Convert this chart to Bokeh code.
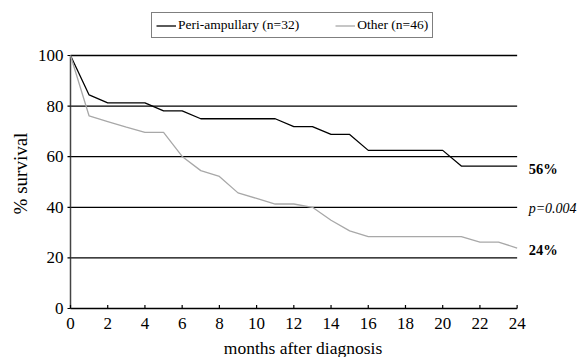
import math
from bokeh.plotting import figure
from bokeh.models import Legend, LegendItem, Label, Range1d
from bokeh.core.properties import value
from bokeh.embed import file_html
from bokeh.resources import INLINE

# ---- data ----
months = list(range(25))
peri = [100, 84.4, 81.3, 81.3, 81.3, 78.1, 78.1, 75.0, 75.0, 75.0, 75.0, 75.0,
        71.9, 71.9, 68.8, 68.8, 62.5, 62.5, 62.5, 62.5, 62.5, 56.3, 56.3, 56.3, 56.3]
other = [100, 76.1, 73.9, 71.7, 69.6, 69.6, 60.1, 54.5, 52.2, 45.7, 43.5, 41.3,
         41.3, 40.0, 34.9, 30.7, 28.4, 28.4, 28.4, 28.4, 28.4, 28.4, 26.2, 26.2, 23.9]
x_ticks = list(range(0, 25, 2))
y_ticks = [0, 20, 40, 60, 80, 100]
x_tick_labels = [str(t) for t in x_ticks]
y_tick_labels = [str(t) for t in y_ticks]
peri_label = "Peri-ampullary (n=32)"
other_label = "Other (n=46)"
p_value = 40
p_text = "p=0.004"
x_title = "months after diagnosis"
y_title = "% survival"

# ---- layout (canvas pixels) ----
W, H = 584, 357
X0, X_PER = 70, 18.61      # pixel of month 0, pixels per month
Y0, Y_PER = 308, 2.53      # pixel of 0 %, pixels per percent
FONT = "Liberation Serif"

def dx(px):
    return px / X_PER

def dy(px):
    return px / Y_PER

p = figure(width=W, height=H, output_backend="svg", toolbar_location=None,
           x_range=Range1d(-dx(X0), dx(W - X0)), y_range=Range1d(-dy(H - Y0), dy(Y0)),
           min_border=0, min_border_left=0, min_border_right=0,
           min_border_top=0, min_border_bottom=0)
p.axis.visible = False
p.grid.visible = False
p.outline_line_color = None

xmin, xmax = months[0], months[-1]
ymin, ymax = y_ticks[0], y_ticks[-1]

# horizontal reference lines
p.segment(x0=[xmin] * (len(y_ticks) - 1), x1=[xmax] * (len(y_ticks) - 1),
          y0=y_ticks[1:], y1=y_ticks[1:], line_color="black", line_width=1.3)
# axis lines
p.segment(x0=[xmin], x1=[xmax], y0=[ymin], y1=[ymin], line_color="black", line_width=1.5)
p.segment(x0=[xmin], x1=[xmin], y0=[ymin], y1=[ymax], line_color="#444444", line_width=1.5)
# ticks
p.segment(x0=x_ticks, x1=x_ticks, y0=[ymin] * len(x_ticks), y1=[ymin + dy(3.5)] * len(x_ticks),
          line_color="black", line_width=1.2)
p.segment(x0=[xmin - dx(3)] * len(y_ticks), x1=[xmin] * len(y_ticks), y0=y_ticks, y1=y_ticks,
          line_color="black", line_width=1.2)
# tick labels
p.text(x=x_ticks, y=[ymin - dy(15)] * len(x_ticks), text=x_tick_labels,
       text_font=value(FONT), text_font_size="17px", text_color="black",
       text_align="center", text_baseline="middle")
p.text(x=[xmin - dx(7)] * len(y_ticks), y=y_ticks, text=y_tick_labels,
       text_font=value(FONT), text_font_size="17px", text_color="black",
       text_align="right", text_baseline="middle")
# axis titles
p.text(x=[xmin - dx(50)], y=[ymin + dy(Y0 - 173)], text=[y_title], angle=math.pi / 2,
       text_font=value(FONT), text_font_size="19px", text_color="black",
       text_align="center", text_baseline="middle")
p.text(x=[xmin + dx(232.5)], y=[ymin - dy(39.5)], text=[x_title],
       text_font=value(FONT), text_font_size="17.5px", text_color="black",
       text_align="center", text_baseline="alphabetic")

# survival curves
r1 = p.line(months, peri, line_color="black", line_width=1.3)
r2 = p.line(months, other, line_color="#a8a8a8", line_width=1.3)

legend = Legend(items=[LegendItem(label=peri_label, renderers=[r1]),
                       LegendItem(label=other_label, renderers=[r2])],
                orientation="horizontal", location=(151, 319),
                label_text_font=FONT, label_text_font_size="13.5px",
                label_text_color="black",
                glyph_width=20, glyph_height=15, label_height=15,
                label_standoff=2, spacing=36, padding=4, margin=0,
                border_line_color="black", border_line_width=1,
                background_fill_alpha=1)
p.add_layout(legend)

p.add_layout(Label(x=xmax, y=peri[-1] - 1.1, x_offset=11.5, text=f"{round(peri[-1])}%",
                   text_font=FONT, text_font_size="14.5px", text_font_style="bold",
                   text_color="black", text_baseline="middle"))
p.add_layout(Label(x=xmax, y=p_value - 0.6, x_offset=11.5, text=p_text,
                   text_font=FONT, text_font_size="14px", text_font_style="italic",
                   text_color="black", text_baseline="middle"))
p.add_layout(Label(x=xmax, y=other[-1] - 0.7, x_offset=11.5, text=f"{round(other[-1])}%",
                   text_font=FONT, text_font_size="14.5px", text_font_style="bold",
                   text_color="black", text_baseline="middle"))

open("out.html", "w").write(file_html(p, INLINE))
